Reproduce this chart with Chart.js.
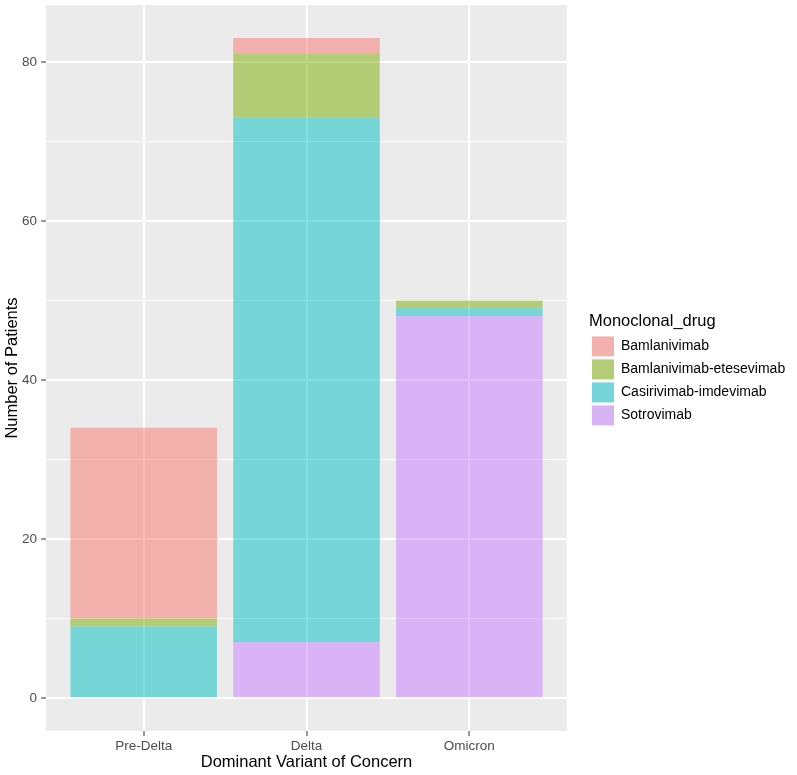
<!DOCTYPE html>
<html>
<head>
<meta charset="utf-8">
<script src="https://cdn.jsdelivr.net/npm/chart.js@4.4.1/dist/chart.umd.min.js"></script>
<style>
  html, body { margin: 0; padding: 0; background: #ffffff; }
</style>
</head>
<body>
<canvas id="graficoVariantes" width="797" height="775"></canvas>
<script>
// dados
const variantes = ['Pre-Delta', 'Delta', 'Omicron'];
const farmacos = ['Bamlanivimab', 'Bamlanivimab-etesevimab', 'Casirivimab-imdevimab', 'Sotrovimab'];
const bamlanivimab = [24, 2, 0];
const bamlanivimabEtesevimab = [1, 8, 1];
const casirivimabImdevimab = [9, 66, 1];
const sotrovimab = [0, 7, 48];
const ticksY = [0, 10, 20, 30, 40, 50, 60, 70, 80];

const coresFarmacos = ['#F8766D', '#7CAE00', '#00BFC4', '#C77CFF'];
const fundo = [235, 235, 235];

function hexParaRgb(hex) {
  return [1, 3, 5].map(i => parseInt(hex.substr(i, 2), 16));
}
function transparente(hex, alfa) {
  const [r, g, b] = hexParaRgb(hex);
  return `rgba(${r}, ${g}, ${b}, ${alfa})`;
}
function solida(hex, alfa) {
  const c = hexParaRgb(hex).map((v, i) => Math.round(v * alfa + fundo[i] * (1 - alfa)));
  return `rgb(${c[0]}, ${c[1]}, ${c[2]})`;
}

const series = [bamlanivimab, bamlanivimabEtesevimab, casirivimabImdevimab, sotrovimab];

// no Chart.js o primeiro dataset fica embaixo da pilha
const datasets = farmacos.map((nome, i) => ({
  label: nome,
  data: series[i].map((valor, j) => ({ x: j + 1, y: valor })),
  backgroundColor: transparente(coresFarmacos[i], 0.5),
  corLegenda: solida(coresFarmacos[i], 0.5),
  borderWidth: 0,
  barPercentage: 0.9,
  categoryPercentage: 1
})).reverse();

const corTexto = '#4D4D4D';
const fonteTicks = { family: 'Liberation Sans', size: 13.5 };
const fonteTitulo = { family: 'Liberation Sans', size: 16.5 };

const fundoPainel = {
  id: 'fundoPainel',
  beforeDraw(chart) {
    const { ctx, chartArea } = chart;
    ctx.save();
    ctx.fillStyle = '#EBEBEB';
    ctx.fillRect(chartArea.left, chartArea.top, chartArea.width, chartArea.height);
    ctx.restore();
  }
};

const ajusteLegenda = {
  id: 'ajusteLegenda',
  beforeLayout(chart) {
    const legenda = chart.legend;
    if (legenda && !legenda._ajustada) {
      const fitOriginal = legenda.fit;
      legenda.fit = function () {
        fitOriginal.call(this);
        this.width = 230;
      };
      legenda._ajustada = true;
    }
  },
  afterLayout(chart) {
    const legenda = chart.legend;
    legenda.left += 22;
    legenda.top = chart.chartArea.top + 3;
    legenda.bottom = chart.chartArea.bottom + 3;
    legenda.height = legenda.bottom - legenda.top;
  }
};

function semPadding(escala) {
  escala.paddingTop = 0;
  escala.paddingBottom = 0;
  escala.paddingLeft = 0;
  escala.paddingRight = 0;
}

Chart.defaults.font.family = 'Liberation Sans';

const grafico = new Chart(document.getElementById('graficoVariantes'), {
  type: 'bar',
  data: { datasets },
  options: {
    responsive: false,
    animation: false,
    events: [],
    layout: { padding: { top: 5, left: 0, right: 0, bottom: 0 } },
    scales: {
      x: {
        type: 'linear',
        min: 0.4,
        max: 3.6,
        stacked: true,
        offset: false,
        afterBuildTicks: escala => {
          escala.ticks = variantes.map((_, i) => ({ value: i + 1 }));
        },
        afterFit: escala => {
          escala.height = 44;
          semPadding(escala);
        },
        ticks: {
          callback: valor => variantes[valor - 1] || '',
          autoSkip: false,
          maxRotation: 0,
          color: corTexto,
          font: fonteTicks,
          padding: 2
        },
        grid: {
          offset: false,
          color: '#FFFFFF',
          lineWidth: 2,
          tickColor: '#333333',
          tickWidth: 1,
          tickLength: 5
        },
        border: { display: false },
        title: {
          display: true,
          text: 'Dominant Variant of Concern',
          color: '#000000',
          font: fonteTitulo,
          padding: { top: 0, bottom: 3 }
        }
      },
      y: {
        min: -4.15,
        max: 87.15,
        stacked: true,
        afterBuildTicks: escala => {
          escala.ticks = ticksY.map(v => ({ value: v }));
        },
        afterFit: escala => {
          escala.width = 46;
          semPadding(escala);
        },
        ticks: {
          callback: valor => (valor % 20 === 0 ? valor : ''),
          color: corTexto,
          font: fonteTicks,
          padding: 4
        },
        grid: {
          color: '#FFFFFF',
          lineWidth: ctx => (ctx.tick && ctx.tick.value % 20 === 0 ? 2 : 1),
          tickColor: ctx => (ctx.tick && ctx.tick.value % 20 === 0 ? '#333333' : 'rgba(0,0,0,0)'),
          tickWidth: 1,
          tickLength: 5
        },
        border: { display: false },
        title: {
          display: true,
          text: 'Number of Patients',
          color: '#000000',
          font: fonteTitulo,
          padding: { top: 3, bottom: 0 }
        }
      }
    },
    plugins: {
      tooltip: { enabled: false },
      legend: {
        position: 'right',
        align: 'center',
        reverse: true,
        title: {
          display: true,
          position: 'start',
          text: 'Monoclonal_drug',
          color: '#000000',
          font: fonteTitulo,
          padding: 0
        },
        labels: {
          boxWidth: 22,
          boxHeight: 20,
          padding: 3,
          color: '#000000',
          font: { family: 'Liberation Sans', size: 14 },
          generateLabels(chart) {
            const itens = Chart.defaults.plugins.legend.labels.generateLabels(chart);
            itens.forEach(item => {
              item.fillStyle = chart.data.datasets[item.datasetIndex].corLegenda;
              item.strokeStyle = 'rgba(0,0,0,0)';
              item.lineWidth = 0;
            });
            return itens;
          }
        }
      }
    }
  },
  plugins: [fundoPainel, ajusteLegenda]
});
</script>
</body>
</html>
